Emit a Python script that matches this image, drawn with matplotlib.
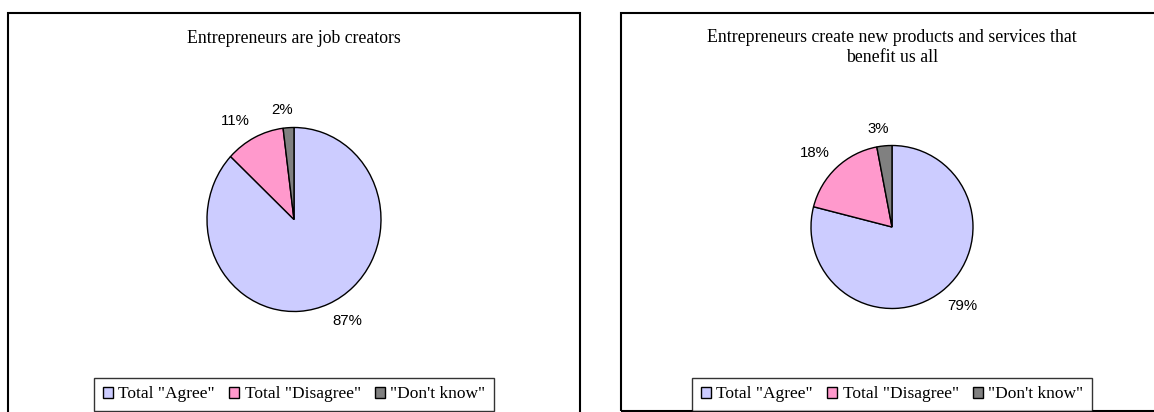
import matplotlib
matplotlib.use("Agg")
import matplotlib.pyplot as plt
from matplotlib.patches import Rectangle, Patch
import numpy as np

# data
categories = ['Total "Agree"', 'Total "Disagree"', '"Don\'t know"']
colors = ['#CCCCFF', '#FF99CC', '#808080']
titles = ['Entrepreneurs are job creators',
          'Entrepreneurs create new products and services that\nbenefit us all']
job_creators = [87, 11, 2]
new_products = [79, 18, 3]

W, H = 1154, 412
fig = plt.figure(figsize=(W / 100, H / 100), dpi=100)
fig.patch.set_facecolor('white')


def px(x, y):
    # pixel (from top-left) -> figure fraction
    return x / W, 1 - y / H


def panel(values, title, box, centre, rx, ry, title_y):
    x0, x1, y0, y1 = box
    cx, cy = centre
    # panel border
    fig.patches.append(Rectangle(px(x0, y1), (x1 - x0) / W, (y1 - y0) / H,
                                 transform=fig.transFigure, fill=False,
                                 edgecolor='black', lw=1.5, zorder=0))
    # title
    tx, ty = px(cx, title_y)
    fig.text(tx, ty, title, ha='center', va='top', fontsize=12.8,
             family='Liberation Serif', linespacing=1.25)

    # pie axes: one data unit = rx pixels across, ry pixels down
    lim = 1.5
    ax = fig.add_axes([(cx - lim * rx) / W, 1 - (cy + lim * ry) / H,
                       2 * lim * rx / W, 2 * lim * ry / H])
    wedges, _ = ax.pie(values, colors=colors, startangle=90, counterclock=False,
                       wedgeprops=dict(edgecolor='black', linewidth=1))
    ax.set_aspect('auto')
    ax.set_xlim(-lim, lim)
    ax.set_ylim(-lim, lim)
    ax.axis('off')

    for w, v in zip(wedges, values):
        ang = np.deg2rad((w.theta1 + w.theta2) / 2)
        dx, dy = np.cos(ang), np.sin(ang)
        if abs(dx) < 0.2:
            ha = 'center'
            dx -= 0.06
        else:
            ha = 'left' if dx > 0 else 'right'
        va = 'bottom' if dy > 0 else 'top'
        ax.text(1.12 * dx, 1.12 * dy, '%d%%' % v, ha=ha, va=va, fontsize=10.8,
                family='Liberation Sans', clip_on=False)

    handles = [Patch(facecolor=c, edgecolor='black', linewidth=1) for c in colors]
    lx, ly = px(cx, 411)
    leg = fig.legend(handles, categories, loc='lower center', bbox_to_anchor=(lx, ly),
                     ncol=3, frameon=True, fancybox=False, borderpad=0.5,
                     handlelength=0.6, handleheight=0.6, handletextpad=0.3,
                     columnspacing=0.8, borderaxespad=0,
                     prop={'family': 'Liberation Serif', 'size': 12.5})
    leg.get_frame().set_edgecolor('black')
    leg.get_frame().set_linewidth(1)


panel(job_creators, titles[0], (8, 580, 13, 440), (294, 219.5), 87, 92, 30)
panel(new_products, titles[1], (621, 1170, 13, 411), (892, 227), 81, 81.5, 29)

fig.savefig('out.png', dpi=100, facecolor='white')
